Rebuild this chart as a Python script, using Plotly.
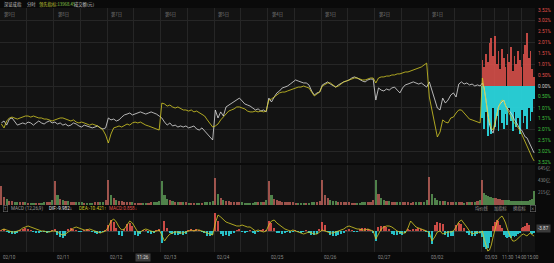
import plotly.graph_objects as go

# ---------------- data ----------------
header_name = "深证成指"
header_mode = "分时"
lead_label = "领先指标:"
lead_value = "13968.45"
turnover_label = "成交额(元)"

day_tags = ["第9日", "第8日", "第7日", "第6日", "第5日", "第4日", "第3日", "第2日", "第1日"]
date_labels = ["02/10", "02/11", "02/12", "02/13", "02/24", "02/25", "02/26", "02/27", "03/02", "03/03"]
time_labels = ["11:30", "14:00", "15:00"]
time_minutes = [120, 150, 240]
cursor_time = "11:26"

pct_ticks = [3.52, 3.02, 2.51, 2.01, 1.51, 1.01, 0.50, 0.00,
             -0.50, -1.01, -1.51, -2.01, -2.51, -3.02, -3.52]
pct_grid = [3.02, 2.01, 1.01, 0.00, -1.01, -2.01, -3.02]
vol_ticks = [215, 430, 645]
vol_tick_text = ["215亿", "430亿", "645亿"]

macd_title = "MACD (12,26,9)"
dif_text = "DIF:-9.982↓"
dea_text = "DEA:-10.421↑"
macd_text = "MACD:0.858↓"
macd_cursor = "-3.87"
tool_buttons = ["均价线", "加指标", "换指标"]

# price (white) and leading indicator (yellow), % change; 9 past days x 20 pts + today 30 pts
price_white = [
    -1.71, -1.62, -1.81, -1.53, -1.48, -1.67, -1.81, -1.76, -1.71, -1.76, -1.67, -1.71, -1.81, -1.71, -1.62, -1.71, -1.76, -1.67, -1.62, -1.71,
    -1.67, -1.76, -1.71, -1.81, -1.76, -1.85, -1.81, -1.71, -1.76, -1.85, -1.90, -1.81, -1.85, -1.90, -1.94, -1.90, -1.85, -1.94, -1.99, -1.94,
    -1.48, -1.57, -1.53, -1.62, -1.57, -1.44, -1.34, -1.30, -1.25, -1.34, -1.30, -1.25, -1.20, -1.25, -1.30, -1.25, -1.20, -1.25, -1.30, -1.39,
    -1.48, -1.67, -1.81, -1.71, -1.85, -1.81, -1.90, -1.85, -1.90, -1.85, -1.94, -1.90, -1.85, -1.99, -2.04, -1.94, -2.08, -2.22, -2.36, -2.50,
    -1.11, -1.48, -1.20, -1.39, -0.97, -0.88, -0.83, -0.74, -0.65, -0.56, -0.69, -0.83, -0.88, -0.93, -1.02, -1.11, -1.06, -1.16, -1.11, -1.20,
    -0.56, -0.74, -0.51, -0.32, -0.23, -0.09, -0.05, 0.00, 0.09, 0.19, 0.28, 0.23, 0.19, 0.14, 0.14, 0.05, -0.23, -0.42, -0.32, -0.28,
    0.05, 0.14, 0.19, 0.09, 0.00, -0.05, 0.05, 0.14, 0.19, 0.23, 0.28, 0.37, 0.42, 0.37, 0.28, 0.23, 0.19, 0.28, 0.32, 0.32,
    -0.65, -0.09, -0.19, -0.23, -0.14, -0.19, -0.09, -0.05, -0.19, -0.32, -0.09, 0.05, 0.09, 0.14, 0.19, 0.14, 0.09, 0.14, 0.05, -0.05,
    0.19, -0.19, -0.65, -1.02, -1.11, -0.56, -0.79, -0.65, -0.42, -0.32, -0.51, 0.09, 0.19, 0.09, 0.14, 0.05, 0.09, 0.00, 0.05, 0.00,
    0.14, -0.09, -0.65, -1.34, -1.81, -2.04, -2.18, -1.81, -1.34, -0.95, -0.83, -0.74, -0.65, -0.92, -1.02,
    -1.11, -1.25, -1.38, -1.57, -1.67, -1.81, -1.98, -2.04, -2.22, -2.36, -2.40, -2.59, -2.78, -2.96, -3.10,
]
lead_yellow = [
    -1.76, -1.94, -1.62, -1.48, -1.44, -1.48, -1.53, -1.48, -1.44, -1.39, -1.39, -1.44, -1.39, -1.44, -1.48, -1.48, -1.53, -1.53, -1.57, -1.62,
    -1.57, -1.53, -1.48, -1.48, -1.53, -1.57, -1.62, -1.57, -1.67, -1.71, -1.67, -1.71, -1.76, -1.81, -1.76, -1.81, -1.85, -1.94, -2.04, -2.27,
    -2.64, -2.22, -1.94, -1.90, -1.85, -1.90, -1.81, -1.76, -1.81, -1.71, -1.67, -1.71, -1.67, -1.76, -1.81, -1.85, -1.90, -1.94, -1.99, -2.04,
    -0.79, -0.83, -0.93, -0.88, -0.97, -1.02, -0.97, -1.06, -1.11, -1.11, -1.16, -1.11, -1.20, -1.16, -1.25, -1.30, -1.39, -1.57, -1.76, -1.90,
    -1.85, -1.76, -1.57, -1.44, -1.30, -1.16, -1.11, -1.06, -0.97, -0.97, -1.02, -1.06, -1.16, -1.20, -1.20, -1.16, -1.20, -1.16, -1.20, -1.16,
    -0.65, -0.60, -0.51, -0.42, -0.32, -0.28, -0.28, -0.23, -0.19, -0.14, -0.09, -0.05, -0.05, 0.00, -0.05, -0.09, -0.28, -0.46, -0.37, -0.28,
    0.00, 0.09, 0.14, 0.14, 0.05, -0.05, 0.00, 0.09, 0.19, 0.23, 0.28, 0.32, 0.37, 0.37, 0.32, 0.28, 0.28, 0.32, 0.37, 0.37,
    0.14, 0.37, 0.42, 0.42, 0.46, 0.46, 0.51, 0.51, 0.56, 0.56, 0.60, 0.65, 0.65, 0.69, 0.74, 0.79, 0.83, 0.88, 0.97, 1.06,
    -0.51, -1.11, -1.71, -2.36, -2.13, -1.57, -1.67, -1.71, -1.48, -1.44, -1.25, -1.11, -1.11, -1.25, -1.44, -1.53, -1.57, -1.62, -1.67, -1.71,
    0.37, -0.09, -0.65, -1.34, -1.67, -1.94, -2.04, -1.67, -1.30, -1.02, -0.79, -0.65, -0.69, -0.93, -1.11,
    -1.25, -1.44, -1.57, -1.71, -1.81, -1.94, -2.04, -2.22, -2.41, -2.64, -2.82, -2.96, -3.15, -3.33, -3.47,
]
# today's buy (red, up) / sell (cyan, down) strength bars, %
buy_strength = [1.2, 0.9, 1.5, 1.1, 2.0, 2.2, 1.4, 2.3, 1.0, 1.6, 0.8, 1.7, 1.3, 0.9, 1.5,
                1.1, 1.8, 0.7, 1.4, 1.0, 1.6, 1.2, 0.9, 1.5, 1.9, 2.45, 1.3, 1.6, 0.8, 0.4]
sell_strength = [-1.5, -2.0, -1.2, -2.3, -1.8, -2.2, -1.0, -1.9, -1.4, -2.1, -1.1, -1.7, -2.0, -1.3, -1.8,
                 -1.0, -1.6, -2.1, -1.2, -1.9, -1.5, -2.2, -1.1, -1.7, -1.4, -2.0, -1.0, -1.6, -1.2, -0.6]
# turnover, 亿
volume = [
    330, 150, 100, 78, 66, 60, 55, 52, 48, 45, 43, 40, 42, 40, 38, 42, 45, 48, 55, 80,
    420, 170, 110, 80, 70, 62, 55, 50, 48, 47, 45, 42, 40, 41, 43, 45, 47, 50, 58, 85,
    440, 180, 115, 85, 70, 64, 58, 52, 50, 46, 44, 43, 42, 40, 42, 44, 46, 50, 56, 78,
    430, 175, 112, 84, 68, 60, 56, 50, 47, 45, 42, 40, 41, 40, 42, 43, 45, 48, 54, 76,
    470, 190, 120, 88, 72, 64, 58, 54, 50, 48, 46, 44, 43, 42, 44, 46, 48, 52, 60, 82,
    420, 170, 110, 80, 68, 60, 55, 50, 48, 45, 43, 42, 40, 41, 42, 44, 46, 50, 55, 75,
    440, 185, 118, 86, 70, 63, 57, 52, 49, 47, 45, 43, 42, 41, 43, 45, 47, 51, 57, 80,
    450, 190, 120, 88, 72, 65, 60, 55, 52, 50, 48, 46, 45, 44, 45, 47, 50, 53, 60, 85,
    500, 200, 125, 90, 75, 68, 62, 57, 53, 50, 48, 46, 45, 44, 46, 48, 51, 55, 62, 90,
    450, 210, 180, 160, 150, 140, 130, 120, 115, 110, 100, 95, 90, 88, 85,
    80, 78, 76, 74, 72, 70, 68, 66, 68, 70, 72, 76, 85, 110, 240,
]
macd_dea = [
    1, 2, 1, 0, -1, -1, 0, 1, 3, 4, 5, 4, 3, 2, 1, 0, 0, -1, -1, 0,
    0, -1, -3, -4, -3, -1, 1, 3, 4, 3, 2, 1, 1, 2, 1, 0, -1, -2, -1, 0,
    4, 10, 12, 9, 4, 1, 2, 6, 10, 8, 3, -1, -1, 1, 2, 1, 0, -1, 0, 1,
    -4, -10, -6, -3, -2, -1, -1, -2, -2, -1, 0, 1, 0, 1, 1, 0, -1, -2, -3, -4,
    8, 16, 14, 11, 9, 8, 7, 6, 5, 5, 6, 5, 4, 4, 2, 0, 1, 0, -1, 0,
    6, 10, 11, 8, 6, 4, 2, 1, 0, 1, 0, -1, -2, -3, -2, -1, -2, -3, -3, -1,
    1, 0, -1, -2, -2, -1, 0, 1, 2, 4, 5, 4, 3, 2, 2, 1, 1, 2, 1, 0,
    -8, -3, 2, 4, 5, 5, 4, 2, 0, -1, -2, -2, 3, 10, 7, 4, 3, 2, 1, 0,
    -2, -10, -6, -1, 0, -3, -2, -1, -1, 0, 4, 9, 11, 8, 4, 0, -3, -2, -1, -2,
    0, -8, -15, -20, -19, -14, -6, 2, 8, 12, 14, 15, 12, 8, 2,
    -3, -7, -10, -10, -9, -7, -5, -4, -3, -4, -5, -3, -2, -4, -5,
]
macd_hist = [
    1, 2, -1, -2, -3, -3, -2, 1, 2, 3, 2, 1, -1, -2, -2, -1, -1, -2, -1, 1,
    2, -4, -6, -7, -5, 2, 3, 2, 1, -1, -1, 1, 2, 1, -1, -2, -3, -2, -1, 1,
    6, 11, 9, 3, -4, -5, 2, 7, 8, 5, -4, -5, -3, 1, 1, -2, -3, -2, 1, 2,
    -12, 10, 3, -2, -3, -4, -4, -3, -4, -3, 1, 2, 1, 2, 1, -1, -2, -5, -5, -4,
    18, 10, -3, -5, -4, -5, -3, -2, 1, 2, -1, -2, -1, 1, -2, -3, -1, 1, 2, 1,
    10, 8, 3, -2, -2, -3, -2, -1, -2, -1, 1, -1, -2, -1, 1, -2, -4, -4, -3, 2,
    9, 6, -1, -4, -5, -5, -4, -3, -2, 1, 2, 1, -1, -1, 2, 3, 3, 2, 1, -2,
    -10, 4, 5, 5, 4, 2, -3, -4, -4, -3, -4, -2, 2, 1, 2, 2, 3, 2, 1, -1,
    -6, -13, 6, 9, 8, 7, -4, -6, -5, -5, 6, 8, 7, 3, -2, -4, -5, -5, -3, -2,
    -6, -16, -18, -17, -12, -6, 5, 9, 11, 10, 6, 3, -4, -6, -7,
    -6, -7, -5, -6, -5, -3, -2, 3, 4, 5, 8, 6, -2, -3, -2,
]

# ---------------- time scale ----------------
DAY = 240          # trading minutes per day
PAST_DAYS = 9
PAST_N = 20
CUR_N = 30
x = []
widths = []
for d in range(PAST_DAYS):
    for k in range(PAST_N):
        x.append(d * DAY + (k + 0.5) * DAY / PAST_N)
        widths.append(DAY / PAST_N)
for k in range(CUR_N):
    x.append(PAST_DAYS * DAY + (k + 0.5) * DAY / CUR_N)
    widths.append(DAY / CUR_N)
x_cur = x[-CUR_N:]
w_cur = widths[-CUR_N:]

RED = "#e0524c"
GREEN = "#4fb84f"
CYAN = "#2ad4dc"
WHITE = "#dedede"
YELLOW = "#d6cb26"
GRID = "#262626"
TXT = "#8c8c8c"
FONT = "Noto Sans CJK SC, Noto Sans, sans-serif"
VOL_RED = "#c0625a"
VOL_GREEN = "#5f9e58"

vol_colors = [VOL_RED] + [VOL_RED if price_white[i] >= price_white[i - 1] else VOL_GREEN for i in range(1, len(volume))]
hist_colors = [RED if v >= 0 else CYAN for v in macd_hist]

# ---------------- geometry ----------------
W, H = 554, 263
ML, MR, MT, MB = 0, 19, 8, 11
PW = W - ML - MR
PH = H - MT - MB


def py(pix):
    return (H - MB - pix) / PH


def pxp(pix):
    return (pix - ML) / PW


fig = go.Figure()

# today's strength bars (grid axis y)
fig.add_trace(go.Bar(x=x_cur, y=buy_strength, width=[w * 0.4 for w in w_cur],
                     marker=dict(color=RED, line=dict(width=0)), opacity=0.85,
                     xaxis="x", yaxis="y", showlegend=False))
fig.add_trace(go.Bar(x=x_cur, y=sell_strength, width=[w * 0.45 for w in w_cur],
                     marker=dict(color=CYAN, line=dict(width=0)), opacity=0.95,
                     xaxis="x", yaxis="y", showlegend=False))
# lines (overlay axis y4, drawn on top)
fig.add_trace(go.Scatter(x=x, y=price_white, mode="lines", line=dict(color=WHITE, width=0.8),
                         xaxis="x", yaxis="y4", showlegend=False))
fig.add_trace(go.Scatter(x=x, y=lead_yellow, mode="lines", line=dict(color=YELLOW, width=0.8),
                         xaxis="x", yaxis="y4", showlegend=False))
# volume
fig.add_trace(go.Bar(x=x, y=volume, width=[w * 0.8 for w in widths],
                     marker=dict(color=vol_colors, line=dict(width=0)), opacity=0.8,
                     xaxis="x", yaxis="y2", showlegend=False))
# MACD
fig.add_trace(go.Bar(x=x, y=macd_hist, width=[w * 0.5 for w in widths],
                     marker=dict(color=hist_colors, line=dict(width=0)), opacity=0.9,
                     xaxis="x", yaxis="y3", showlegend=False))
fig.add_trace(go.Scatter(x=x, y=macd_dea, mode="lines", line=dict(color=YELLOW, width=0.8),
                         xaxis="x", yaxis="y3", showlegend=False))

grid_x = list(range(0, PAST_DAYS * DAY, DAY // 2)) + list(range(PAST_DAYS * DAY, (PAST_DAYS + 1) * DAY + 1, DAY // 4))


def pct_label(v):
    c = RED if v > 0 else ("#cfcfcf" if v == 0 else "#3fc43f")
    return f"<span style='color:{c}'>{abs(v):.2f}%</span>"


price_rng = [-(163 - 86) / 21.6, (86 - 8) / 21.6]

fig.update_layout(
    width=W, height=H,
    margin=dict(l=ML, r=MR, t=MT, b=MB, pad=0),
    paper_bgcolor="#0a0a0a",
    plot_bgcolor="#131313",
    barmode="overlay", bargap=0,
    font=dict(family=FONT, size=5, color=TXT),
    xaxis=dict(domain=[0, 1], range=[0, (PAST_DAYS + 1) * DAY], anchor="y3",
               tickmode="array", tickvals=grid_x, showticklabels=False, ticks="",
               showgrid=True, gridcolor=GRID, gridwidth=1, zeroline=False, showline=False,
               fixedrange=True),
    yaxis=dict(domain=[py(163), 1], range=price_rng, anchor="x",
               tickmode="array", tickvals=pct_grid, showticklabels=False, ticks="",
               showgrid=True, gridcolor=GRID, gridwidth=1, zeroline=False, fixedrange=True),
    yaxis4=dict(overlaying="y", side="right", range=price_rng, anchor="x",
                tickmode="array", tickvals=pct_ticks, ticktext=[pct_label(v) for v in pct_ticks],
                tickfont=dict(size=4.8, family="Roboto, sans-serif"), ticks="", ticklabelstandoff=2,
                showgrid=False, zeroline=False, fixedrange=True),
    yaxis2=dict(domain=[py(205), py(165)], range=[0, 645 * 40 / 36.5], anchor="x", side="right",
                tickmode="array", tickvals=vol_ticks, ticktext=vol_tick_text,
                tickfont=dict(size=4.6, color=TXT), ticks="", ticklabelstandoff=2,
                showgrid=False, zeroline=False, fixedrange=True),
    yaxis3=dict(domain=[0, py(213)], range=[-21, 18], anchor="x", side="right",
                showticklabels=False, ticks="", showgrid=False,
                zeroline=True, zerolinecolor="#3a3a3a", zerolinewidth=1, fixedrange=True),
)

ann = []
# header row
hy = py(4.5)
ann.append(dict(text=header_name, x=pxp(2), y=hy, font=dict(color="#c4c4c4", size=4.3)))
ann.append(dict(text=header_mode, x=pxp(25), y=hy, font=dict(color="#c4c4c4", size=4.3)))
ann.append(dict(text=f"<span style='color:#c8cf36'>{lead_label}</span><span style='color:#8fd24c'>{lead_value}</span>",
                x=pxp(37), y=hy, font=dict(size=4.3)))
ann.append(dict(text=turnover_label, x=pxp(72), y=hy, font=dict(color="#c4c4c4", size=4.3)))
for a in ann:
    a.update(xref="paper", yref="paper", xanchor="left", yanchor="middle", showarrow=False)

# top day tags
for d, tag in enumerate(day_tags):
    ann.append(dict(text=tag, x=d * DAY, xref="x", xshift=2, y=py(14.5), yref="paper",
                    xanchor="left", yanchor="middle", showarrow=False,
                    font=dict(color="#7c7c7c", size=4.3)))

# bottom date labels
by = py(257)
for d, lab in enumerate(date_labels):
    ann.append(dict(text=lab, x=d * DAY, xref="x", xshift=1, y=by, yref="paper",
                    xanchor="left", yanchor="middle", showarrow=False,
                    font=dict(color=TXT, size=4.6, family="Roboto, sans-serif")))
time_shift = [0, 6, -2]
for lab, m, s in zip(time_labels, time_minutes, time_shift):
    ann.append(dict(text=lab, x=PAST_DAYS * DAY + m, xref="x", xshift=s, y=by, yref="paper",
                    xanchor="center", yanchor="middle", showarrow=False,
                    font=dict(color=TXT, size=4.6, family="Roboto, sans-serif")))
ann.append(dict(text=cursor_time, x=pxp(143), xref="paper", y=by, yref="paper",
                xanchor="center", yanchor="middle", showarrow=False, bgcolor="#3c3c3c", borderpad=1,
                font=dict(color="#dddddd", size=4.6, family="Roboto, sans-serif")))

# MACD header
my = py(208.5)
ann.append(dict(text="T", x=pxp(2.5), y=my, bordercolor="#6a6a6a", borderwidth=0.6, borderpad=0.3,
                font=dict(color="#aaaaaa", size=3.8)))
ann.append(dict(text=macd_title, x=pxp(9), y=my, font=dict(color="#9a9a9a", size=4.6, family="Roboto, sans-serif")))
ann.append(dict(text=dif_text, x=pxp(47), y=my, font=dict(color="#e8e8e8", size=4.6, family="Roboto, sans-serif")))
ann.append(dict(text=dea_text, x=pxp(77), y=my, font=dict(color=YELLOW, size=4.6, family="Roboto, sans-serif")))
ann.append(dict(text=macd_text, x=pxp(107), y=my, font=dict(color=RED, size=4.6, family="Roboto, sans-serif")))
for i, b in enumerate(tool_buttons):
    ann.append(dict(text=b, x=pxp(473 + 19 * i), y=my, font=dict(color="#9a9a9a", size=4.3)))
ann.append(dict(text="×", x=pxp(529.5), y=my, bordercolor="#6a6a6a", borderwidth=0.6, borderpad=0.2,
                font=dict(color="#9a9a9a", size=3.8)))
for a in ann[-9:]:
    a.update(xref="paper", yref="paper", xanchor="left", yanchor="middle", showarrow=False)

# MACD cursor value box on the right
ann.append(dict(text=macd_cursor, x=1, xref="paper", xshift=1, y=3, yref="y3",
                xanchor="left", yanchor="middle", showarrow=False, bgcolor="#3a3a3a", borderpad=1,
                font=dict(color="#dddddd", size=4.6, family="Roboto, sans-serif")))

fig.update_layout(annotations=ann)
fig.write_html("out.html")
